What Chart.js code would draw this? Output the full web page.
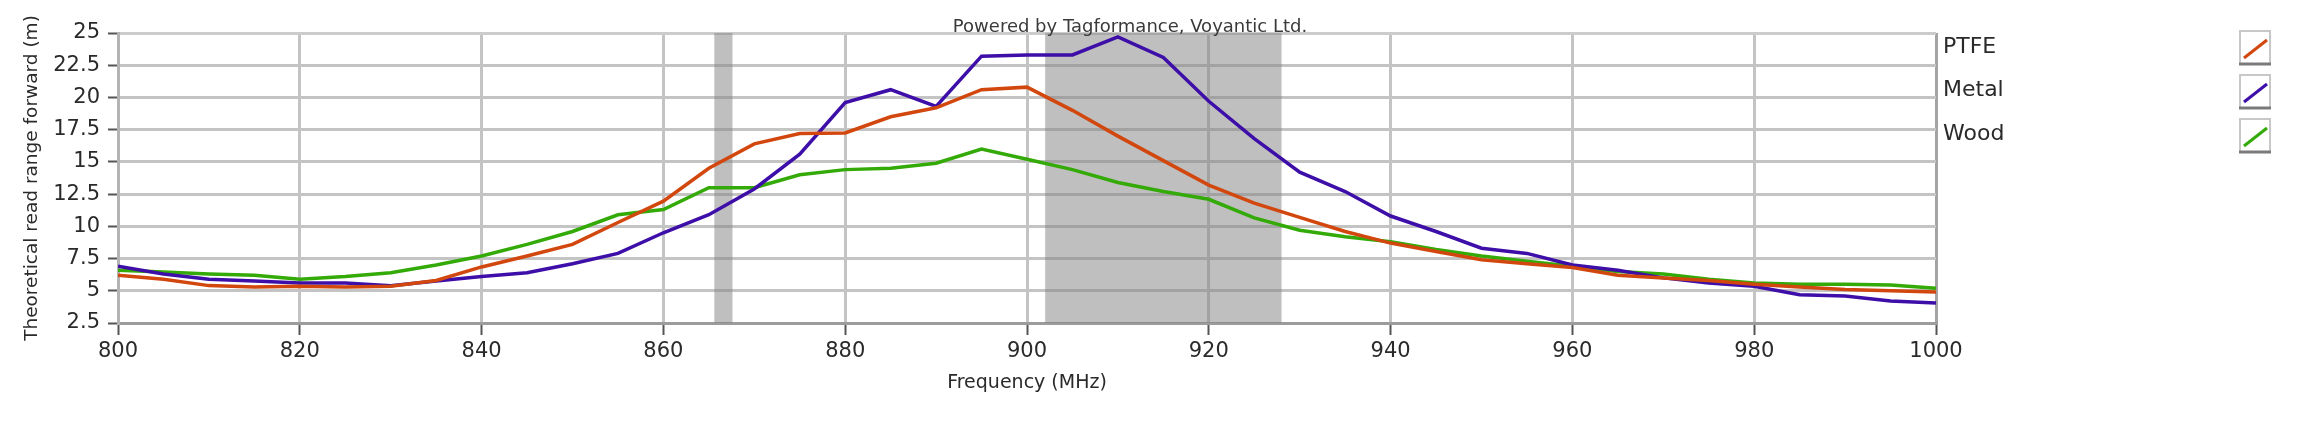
<!DOCTYPE html>
<html>
<head>
<meta charset="utf-8">
<script src="https://cdn.jsdelivr.net/npm/chart.js@4.4.1/dist/chart.umd.min.js"></script>
<style>
  html, body { margin: 0; padding: 0; background: #fff; }
  #wrap { width: 2313px; height: 426px; position: relative; }
</style>
</head>
<body>
<div id="wrap"><canvas id="chart"></canvas></div>
<script>
// frequency in MHz, read range in m
var freqs = [800, 805, 810, 815, 820, 825, 830, 835, 840, 845,
             850, 855, 860, 865, 870, 875, 880, 885, 890, 895,
             900, 905, 910, 915, 920, 925, 930, 935, 940, 945,
             950, 955, 960, 965, 970, 975, 980, 985, 990, 995, 1000];

var ptfe = [6.2, 5.9, 5.4, 5.3, 5.35, 5.3, 5.35, 5.8, 6.85, 7.7,
            8.6, 10.3, 11.95, 14.5, 16.4, 17.2, 17.25, 18.5, 19.2, 20.6,
            20.8, 19.0, 17.0, 15.1, 13.2, 11.8, 10.7, 9.6, 8.7, 8.05,
            7.4, 7.1, 6.8, 6.2, 6.0, 5.8, 5.5, 5.3, 5.1, 5.0, 4.9];

var metal = [6.9, 6.3, 5.9, 5.75, 5.6, 5.6, 5.4, 5.75, 6.1, 6.4,
             7.1, 7.9, 9.5, 10.9, 12.9, 15.6, 19.6, 20.6, 19.3, 23.2,
             23.3, 23.3, 24.7, 23.1, 19.7, 16.8, 14.2, 12.7, 10.8, 9.6,
             8.3, 7.9, 7.0, 6.6, 6.0, 5.6, 5.35, 4.7, 4.6, 4.2, 4.05];

var wood = [6.6, 6.45, 6.3, 6.2, 5.9, 6.1, 6.4, 7.0, 7.7, 8.6,
            9.6, 10.9, 11.3, 13.0, 13.0, 14.0, 14.4, 14.5, 14.9, 16.0,
            15.2, 14.4, 13.4, 12.7, 12.1, 10.65, 9.7, 9.2, 8.8, 8.2,
            7.7, 7.3, 6.9, 6.5, 6.3, 5.9, 5.6, 5.5, 5.5, 5.45, 5.2];

var seriesNames = ['PTFE', 'Metal', 'Wood'];
var seriesColors = ['#d2470e', '#3d0ea8', '#33aa08'];

// regulatory bands (MHz)
var bandStarts = [865.6, 902];
var bandEnds = [867.6, 928];

var xTicks = [800, 820, 840, 860, 880, 900, 920, 940, 960, 980, 1000];
var yTicks = [2.5, 5, 7.5, 10, 12.5, 15, 17.5, 20, 22.5, 25];

var credit = 'Powered by Tagformance, Voyantic Ltd.';

function pts(ys) {
  return freqs.map(function(f, i) { return { x: f, y: ys[i] }; });
}

Chart.defaults.font.family = '"DejaVu Sans", Verdana, sans-serif';
Chart.defaults.color = '#2a2a2a';

var bandPlugin = {
  id: 'bands',
  beforeDatasetsDraw: function(chart) {
    var ctx = chart.ctx, a = chart.chartArea, x = chart.scales.x;
    ctx.save();
    ctx.fillStyle = 'rgba(128,128,128,0.5)';
    for (var i = 0; i < bandStarts.length; i++) {
      var x0 = x.getPixelForValue(bandStarts[i]);
      var x1 = x.getPixelForValue(bandEnds[i]);
      ctx.fillRect(x0, a.top, x1 - x0, a.bottom - a.top);
    }
    ctx.restore();
  }
};

var sideLegend = {
  id: 'sideLegend',
  afterDraw: function(chart) {
    var ctx = chart.ctx, a = chart.chartArea;
    ctx.save();
    // credit line on top
    ctx.font = '18px "DejaVu Sans"';
    ctx.fillStyle = '#3a3a3a';
    ctx.textAlign = 'center';
    ctx.textBaseline = 'alphabetic';
    ctx.fillText(credit, 1130, a.top - 1);

    ctx.font = '22px "DejaVu Sans"';
    ctx.textAlign = 'left';
    ctx.textBaseline = 'middle';
    var bx = chart.width - 74;
    chart.data.datasets.forEach(function(ds, i) {
      var ty = a.top + 14 + i * 43.5;
      ctx.fillStyle = '#2a2a2a';
      ctx.fillText(ds.label, a.right + 7, ty);
      // checkbox style marker
      var by = a.top - 3 + i * 44;
      ctx.fillStyle = '#fff';
      ctx.fillRect(bx, by, 32, 35);
      ctx.strokeStyle = '#c8c8c8';
      ctx.lineWidth = 2;
      ctx.beginPath();
      ctx.moveTo(bx + 1, by + 34);
      ctx.lineTo(bx + 1, by + 1);
      ctx.lineTo(bx + 31, by + 1);
      ctx.lineTo(bx + 31, by + 34);
      ctx.stroke();
      ctx.strokeStyle = '#7a7a7a';
      ctx.lineWidth = 3;
      ctx.beginPath();
      ctx.moveTo(bx, by + 34);
      ctx.lineTo(bx + 32, by + 34);
      ctx.stroke();
      ctx.strokeStyle = ds.borderColor;
      ctx.lineWidth = 3;
      ctx.beginPath();
      ctx.moveTo(bx + 5, by + 28);
      ctx.lineTo(bx + 28, by + 10);
      ctx.stroke();
    });
    ctx.restore();
  }
};

var ctx = document.getElementById('chart');
new Chart(ctx, {
  type: 'line',
  data: {
    datasets: [
      { label: seriesNames[0], data: pts(ptfe), borderColor: seriesColors[0] },
      { label: seriesNames[1], data: pts(metal), borderColor: seriesColors[1] },
      { label: seriesNames[2], data: pts(wood), borderColor: seriesColors[2] }
    ]
  },
  options: {
    responsive: true,
    maintainAspectRatio: false,
    animation: false,
    layout: { padding: { left: 17, right: 377, top: 33, bottom: 28 } },
    elements: {
      line: { borderWidth: 3.5, tension: 0, fill: false },
      point: { radius: 0, hoverRadius: 0 }
    },
    plugins: {
      legend: { display: false },
      tooltip: { enabled: false }
    },
    scales: {
      x: {
        type: 'linear',
        min: 800,
        max: 1000,
        afterFit: function(s) { s.height = 75; },
        afterBuildTicks: function(s) { s.ticks = xTicks.map(function(v) { return { value: v }; }); },
        ticks: {
          padding: 4,
          font: { size: 21 },
          color: '#2a2a2a',
          callback: function(v) { return String(v); }
        },
        grid: {
          color: function(c) { return c.tick && c.tick.value === 1000 ? '#a4a4a4' : '#c4c4c4'; },
          lineWidth: 3,
          tickLength: 12,
          tickColor: '#555',
          tickWidth: 2
        },
        border: { color: '#9c9c9c', width: 3 },
        title: { display: true, text: 'Frequency (MHz)', font: { size: 19 }, color: '#2a2a2a', padding: { top: 0, bottom: 4 } }
      },
      y: {
        min: 2.5,
        max: 25,
        afterFit: function(s) { s.width = 101; },
        afterBuildTicks: function(s) { s.ticks = yTicks.map(function(v) { return { value: v }; }); },
        ticks: {
          padding: 8,
          font: { size: 21 },
          color: '#2a2a2a',
          callback: function(v) { return String(v); }
        },
        grid: {
          color: function(c) {
            if (c.tick && c.tick.value === 2.5) return '#9c9c9c';
            if (c.tick && c.tick.value === 25) return '#cccccc';
            return '#c4c4c4';
          },
          lineWidth: 3,
          tickLength: 10,
          tickColor: '#555',
          tickWidth: 2
        },
        border: { color: '#b4b4b4', width: 3 },
        title: { display: true, text: 'Theoretical read range forward (m)', font: { size: 18.5 }, color: '#2a2a2a', padding: { top: 4, bottom: 0 } }
      }
    }
  },
  plugins: [bandPlugin, sideLegend]
});
</script>
</body>
</html>
